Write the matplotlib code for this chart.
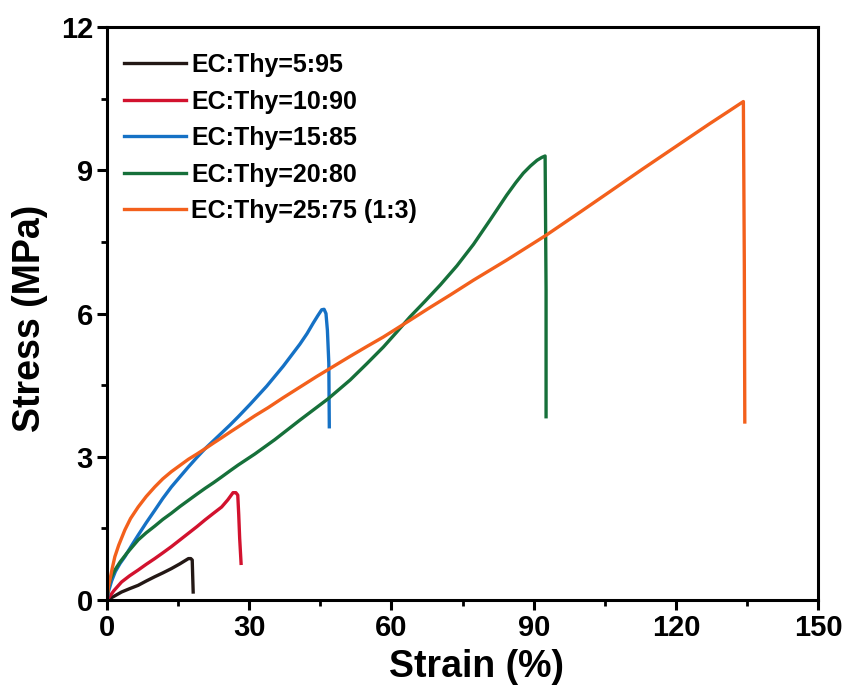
import matplotlib
matplotlib.use('Agg')
import matplotlib.pyplot as plt
from matplotlib.ticker import MultipleLocator

plt.rcParams['font.family'] = ['Liberation Sans', 'DejaVu Sans']
plt.rcParams['font.weight'] = 'bold'

# strain (%) / stress (MPa)
strain_5 = [0, 1.5, 3.1, 4.8, 6.6, 8.3, 10.1, 11.8, 13.6, 15.4, 17.2, 17.7, 18.0, 18.1, 18.2]
stress_5 = [0, 0.08, 0.17, 0.24, 0.31, 0.4, 0.49, 0.57, 0.66, 0.76, 0.87, 0.87, 0.84, 0.5, 0.17]

strain_10 = [0, 1.5, 3.1, 4.8, 6.6, 8.3, 10.1, 11.8, 13.6, 15.4, 17.2, 19, 20.7, 22.5, 24.2, 25.5,
             26.6, 27.2, 27.6, 27.8, 28.0, 28.3]
stress_10 = [0, 0.2, 0.38, 0.51, 0.63, 0.75, 0.87, 0.99, 1.12, 1.26, 1.4, 1.54, 1.68, 1.82, 1.95, 2.1,
             2.25, 2.25, 2.2, 1.8, 1.3, 0.77]

strain_15 = [0, 0.4, 1.0, 1.8, 2.8, 3.8, 5.2, 6.6, 8.3, 10.1, 11.8, 13.6, 15.4, 17.2, 19, 20.7, 22.5,
             24.2, 26, 27.7, 30.2, 33.7, 37.2, 40.7, 42.2, 43.5, 44.5, 45.3, 45.8, 46.2, 46.5, 46.8, 46.9]
stress_15 = [0, 0.2, 0.4, 0.6, 0.77, 0.91, 1.14, 1.36, 1.62, 1.88, 2.13, 2.37, 2.58, 2.79, 2.99, 3.17, 3.34,
             3.5, 3.67, 3.84, 4.1, 4.48, 4.9, 5.36, 5.58, 5.8, 5.96, 6.08, 6.09, 6.0, 5.65, 4.96, 3.63]

strain_20 = [0, 0.3, 0.8, 1.69, 2.8, 4.2, 5.4, 6.6, 8.3, 10.1, 11.8, 13.6, 15.4, 17.2, 19, 20.7, 22.5,
             24.2, 26, 27.7, 31.2, 35.4, 40.7, 46.7, 51.3, 54.8, 58.3, 61, 63.9, 67, 70.3, 73.8, 77.3,
             80.8, 84.3, 86.2, 87.8, 89.3, 90.7, 91.7, 92.4, 92.6, 92.6]
stress_20 = [0, 0.25, 0.45, 0.63, 0.8, 0.98, 1.12, 1.26, 1.41, 1.55, 1.69, 1.82, 1.96, 2.09, 2.22, 2.34, 2.46,
             2.58, 2.71, 2.83, 3.06, 3.36, 3.77, 4.22, 4.61, 4.95, 5.3, 5.6, 5.93, 6.25, 6.6, 7.0, 7.45,
             7.96, 8.48, 8.74, 8.94, 9.09, 9.21, 9.27, 9.3, 6.5, 3.84]

strain_25 = [0, 0.3, 0.7, 1.1, 1.69, 2.5, 3.8, 5.0, 6.6, 8.3, 10.1, 11.8, 13.6, 15.4, 17.2, 19, 20.7,
             22.5, 24.2, 26, 27.7, 31.2, 34, 37.2, 40.7, 44.2, 47.7, 51.2, 54.8, 58.3, 63.9, 68, 72.4,
             77.3, 84.3, 92.6, 100, 106, 113, 120, 127, 131, 134.2, 134.4, 134.5]
stress_25 = [0, 0.25, 0.45, 0.65, 0.91, 1.15, 1.47, 1.71, 1.95, 2.17, 2.37, 2.54, 2.69, 2.82, 2.95, 3.06, 3.17,
             3.29, 3.4, 3.52, 3.63, 3.86, 4.03, 4.24, 4.46, 4.68, 4.89, 5.1, 5.31, 5.51, 5.86, 6.12, 6.39,
             6.7, 7.12, 7.64, 8.14, 8.55, 9.03, 9.5, 9.97, 10.23, 10.44, 7.0, 3.73]

labels = ['EC:Thy=5:95', 'EC:Thy=10:90', 'EC:Thy=15:85', 'EC:Thy=20:80', 'EC:Thy=25:75 (1:3)']
colors = ['#231815', '#d2122e', '#1571c5', '#16703a', '#f3601c']

curvas = [(strain_5, stress_5), (strain_10, stress_10), (strain_15, stress_15),
          (strain_20, stress_20), (strain_25, stress_25)]

fig = plt.figure(figsize=(8.48, 6.93), dpi=100)
ax = fig.add_axes([0.126, 0.134, 0.839, 0.827])

for (x, y), lab, cor in zip(curvas, labels, colors):
    ax.plot(x, y, color=cor, lw=2.4, label=lab, solid_joinstyle='round')

ax.set_xlim(0, 150)
ax.set_ylim(0, 12)
ax.xaxis.set_major_locator(MultipleLocator(30))
ax.xaxis.set_minor_locator(MultipleLocator(15))
ax.yaxis.set_major_locator(MultipleLocator(3))
ax.yaxis.set_minor_locator(MultipleLocator(1.5))

for s in ax.spines.values():
    s.set_linewidth(2.2)
ax.tick_params(which='major', direction='out', length=7, width=2.2, labelsize=21, pad=3)
ax.tick_params(which='minor', direction='out', length=4, width=2.0)
for t in ax.get_xticklabels() + ax.get_yticklabels():
    t.set_fontweight('bold')

ax.set_xlabel('Strain (%)', fontsize=27, fontweight='bold')
ax.set_ylabel('Stress (MPa)', fontsize=27, fontweight='bold')
ax.xaxis.set_label_coords(0.519, -0.085)
ax.yaxis.set_label_coords(-0.083, 0.491)

leg = ax.legend(loc='upper left', frameon=False, fontsize=18, handlelength=2.5,
                handletextpad=0.2, labelspacing=0.5, borderaxespad=0.0,
                bbox_to_anchor=(0.01, 0.972))
for t in leg.get_texts():
    t.set_fontweight('bold')

plt.savefig('out.png', dpi=100)
